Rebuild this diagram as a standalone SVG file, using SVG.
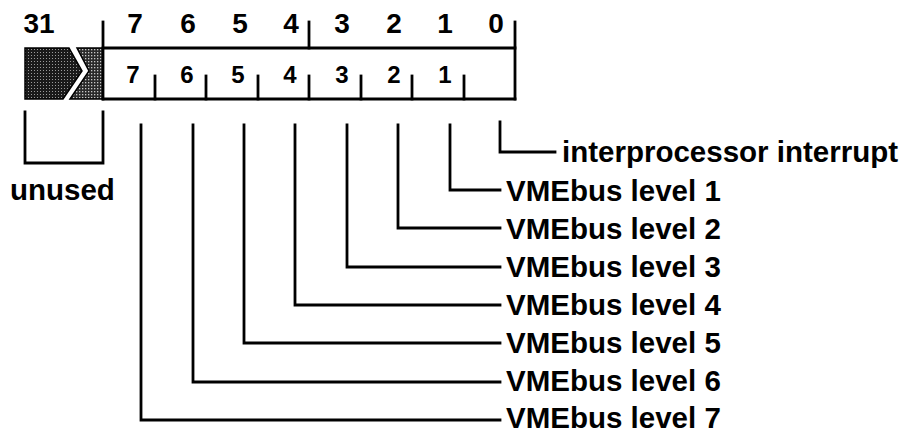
<svg xmlns="http://www.w3.org/2000/svg" width="904" height="435" viewBox="0 0 904 435">
<style>
.ln{stroke:#000;stroke-width:2.8;fill:none;stroke-linecap:square}
.hd{font-family:"Liberation Sans",Arial,sans-serif;font-weight:bold;font-size:28px;fill:#000;text-anchor:middle}
.bt{font-family:"Liberation Sans",Arial,sans-serif;font-weight:bold;font-size:24px;fill:#000;text-anchor:middle}
.lb{font-family:"Liberation Sans",Arial,sans-serif;font-weight:bold;font-size:29.5px;fill:#000}
</style>
<defs>
<pattern id="dk" width="3" height="3" patternUnits="userSpaceOnUse">
<rect width="3" height="3" fill="#1a1a1a"/>
<rect x="1" y="1" width="1" height="1" fill="#9a9a9a"/>
</pattern>
<pattern id="lt" width="3" height="3" patternUnits="userSpaceOnUse">
<rect width="3" height="3" fill="#2a2a2a"/>
<rect x="1" y="1" width="1.3" height="1.3" fill="#c8c8c8"/>
</pattern>
</defs>
<rect width="904" height="435" fill="#fff"/>
<g id="register">
<polygon points="25,48 69,48 82,71 63,99 25,99" fill="url(#dk)" stroke="#000" stroke-width="1.5"/>
<polygon points="77,48 103,48 103,99 70,99 89,71" fill="url(#lt)" stroke="#000" stroke-width="1.5"/>
<line class="ln" x1="103" y1="48" x2="515" y2="48"/>
<line class="ln" x1="103" y1="99" x2="515" y2="99"/>
<line class="ln" x1="103" y1="22" x2="103" y2="99"/>
<line class="ln" x1="309" y1="22" x2="309" y2="48"/>
<line class="ln" x1="515" y1="22" x2="515" y2="99"/>
<line class="ln" x1="155" y1="76" x2="155" y2="99"/>
<line class="ln" x1="206" y1="76" x2="206" y2="99"/>
<line class="ln" x1="258" y1="76" x2="258" y2="99"/>
<line class="ln" x1="309" y1="76" x2="309" y2="99"/>
<line class="ln" x1="361" y1="76" x2="361" y2="99"/>
<line class="ln" x1="412" y1="76" x2="412" y2="99"/>
<line class="ln" x1="464" y1="76" x2="464" y2="99"/>
<text class="hd" x="39" y="33">31</text>
<text class="hd" x="135" y="33">7</text>
<text class="hd" x="188" y="33">6</text>
<text class="hd" x="240" y="33">5</text>
<text class="hd" x="291" y="33">4</text>
<text class="hd" x="342" y="33">3</text>
<text class="hd" x="394" y="33">2</text>
<text class="hd" x="445" y="33">1</text>
<text class="hd" x="496" y="33">0</text>
<text class="bt" x="133" y="83">7</text>
<text class="bt" x="187" y="83">6</text>
<text class="bt" x="238" y="83">5</text>
<text class="bt" x="290" y="83">4</text>
<text class="bt" x="342" y="83">3</text>
<text class="bt" x="394" y="83">2</text>
<text class="bt" x="445" y="83">1</text>
</g>
<g id="connectors">
<polyline class="ln" points="25,112 25,163 103,163 103,112"/>
<polyline class="ln" points="500,122 500,152 555,152"/>
<polyline class="ln" points="450,125 450,190 500,190"/>
<polyline class="ln" points="398,125 398,228 500,228"/>
<polyline class="ln" points="347,125 347,267 500,267"/>
<polyline class="ln" points="295,125 295,305 500,305"/>
<polyline class="ln" points="244,125 244,343 500,343"/>
<polyline class="ln" points="193,125 193,382 500,382"/>
<polyline class="ln" points="141,125 141,420 500,420"/>
</g>
<g id="label-unused"><text class="lb" x="10" y="200">unused</text></g>
<g id="label-ipi"><text class="lb" x="562" y="162">interprocessor interrupt</text></g>
<g id="label-l1"><text class="lb" x="506" y="201">VMEbus level 1</text></g>
<g id="label-l2"><text class="lb" x="506" y="239">VMEbus level 2</text></g>
<g id="label-l3"><text class="lb" x="506" y="277">VMEbus level 3</text></g>
<g id="label-l4"><text class="lb" x="506" y="315">VMEbus level 4</text></g>
<g id="label-l5"><text class="lb" x="506" y="353">VMEbus level 5</text></g>
<g id="label-l6"><text class="lb" x="506" y="391">VMEbus level 6</text></g>
<g id="label-l7"><text class="lb" x="506" y="428">VMEbus level 7</text></g>
</svg>
